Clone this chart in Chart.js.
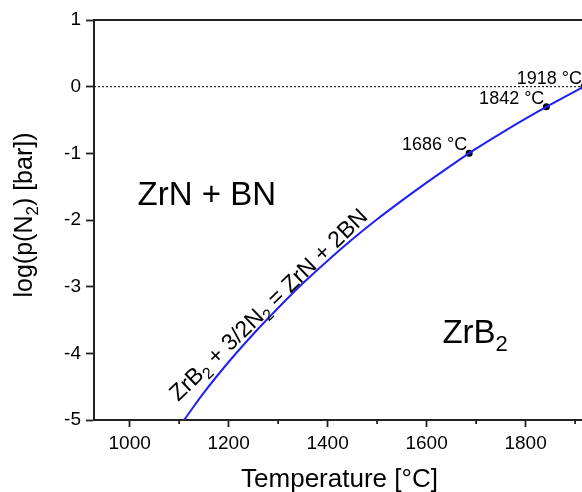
<!DOCTYPE html>
<html lang="en">
<head>
<meta charset="UTF-8">
<title>ZrB2 / ZrN + BN stability</title>
<script src="https://cdn.jsdelivr.net/npm/chart.js"></script>
<style>
  body { margin: 0; background: #fff; overflow: hidden; }
  canvas { display: block; }
</style>
</head>
<body>
<canvas id="myChart" width="586" height="492"></canvas>
<script>
// equilibrium line ZrB2 + 3/2N2 = ZrN + 2BN
const curveTemp = [1110, 1150, 1200, 1250, 1300, 1350, 1400, 1450, 1500, 1550, 1600, 1650, 1700, 1750, 1800, 1850, 1900, 1918];
const curveLogP = [-5.0, -4.59, -4.13, -3.71, -3.32, -2.95, -2.61, -2.29, -1.99, -1.71, -1.44, -1.18, -0.93, -0.70, -0.48, -0.27, -0.07, 0.0];

// marked points
const markTemp = [1686, 1842, 1918];
const markLogP = [-1, -0.3, 0];
const markText = ['1686 \u00b0C', '1842 \u00b0C', '1918 \u00b0C'];

// reference line (p = 1 bar)
const refLogP = 0;

// axes
const xMin = 928, xMax = 1914;
const xTicks = [1000, 1200, 1400, 1600, 1800];
const xMinorTicks = [1100, 1300, 1500, 1700, 1900];
const yTicks = [-5, -4, -3, -2, -1, 0, 1];

const FONT = "'Liberation Sans', Arial, Helvetica, sans-serif";
const INK = '#222';

// draw text made of [string, isSubscript] pieces
function drawRich(ctx, parts, x, y, size, align) {
  const subSize = Math.round(size * 0.68);
  let total = 0;
  parts.forEach(p => {
    ctx.font = (p[1] ? subSize : size) + 'px ' + FONT;
    total += ctx.measureText(p[0]).width;
  });
  let cx = x;
  if (align === 'center') cx = x - total / 2;
  if (align === 'right') cx = x - total;
  ctx.textAlign = 'left';
  ctx.textBaseline = 'alphabetic';
  parts.forEach(p => {
    ctx.font = (p[1] ? subSize : size) + 'px ' + FONT;
    ctx.fillText(p[0], cx, p[1] ? y + size * 0.22 : y);
    cx += ctx.measureText(p[0]).width;
  });
}

const decorations = {
  id: 'decorations',
  beforeDatasetsDraw(chart) {
    const ctx = chart.ctx, area = chart.chartArea, ys = chart.scales.y;
    const py = ys.getPixelForValue(refLogP);
    ctx.save();
    ctx.strokeStyle = '#000';
    ctx.lineWidth = 1;
    ctx.setLineDash([2, 2]);
    ctx.beginPath();
    ctx.moveTo(area.left, py);
    ctx.lineTo(area.right, py);
    ctx.stroke();
    ctx.restore();
  },
  afterDraw(chart) {
    const ctx = chart.ctx, area = chart.chartArea;
    const xs = chart.scales.x, ys = chart.scales.y;
    ctx.save();

    // top frame line
    ctx.strokeStyle = INK;
    ctx.lineWidth = 2;
    ctx.beginPath();
    ctx.moveTo(area.left - 1, area.top);
    ctx.lineTo(area.right, area.top);
    ctx.stroke();

    // minor x ticks
    ctx.lineWidth = 1.8;
    xMinorTicks.forEach(v => {
      const px = xs.getPixelForValue(v);
      ctx.beginPath();
      ctx.moveTo(px, area.bottom);
      ctx.lineTo(px, area.bottom + 4);
      ctx.stroke();
    });

    ctx.fillStyle = '#000';

    // labels of the marked points
    ctx.font = '18px ' + FONT;
    ctx.textAlign = 'right';
    ctx.textBaseline = 'alphabetic';
    markTemp.forEach((t, i) => {
      const px = Math.min(xs.getPixelForValue(t), 584);
      const py = ys.getPixelForValue(markLogP[i]);
      ctx.fillText(markText[i], px - 2, py - 3);
    });

    // phase fields
    drawRich(ctx, [['ZrN + BN', false]], xs.getPixelForValue(1016), ys.getPixelForValue(-1.78), 33, 'left');
    drawRich(ctx, [['ZrB', false], ['2', true]], xs.getPixelForValue(1632), ys.getPixelForValue(-3.85), 33, 'left');

    // reaction along the curve
    ctx.save();
    ctx.translate(xs.getPixelForValue(1291), ys.getPixelForValue(-3.35));
    ctx.rotate(-44 * Math.PI / 180);
    drawRich(ctx, [['ZrB', false], ['2', true], [' + 3/2N', false], ['2', true], [' = ZrN + 2BN', false]], 0, 0, 23, 'center');
    ctx.restore();

    // axis titles
    ctx.font = '26px ' + FONT;
    ctx.textAlign = 'center';
    ctx.fillText('Temperature [\u00b0C]', xs.getPixelForValue(1424), 487);

    ctx.save();
    ctx.translate(32, 215);
    ctx.rotate(-Math.PI / 2);
    drawRich(ctx, [['log(p(N', false], ['2', true], [') [bar])', false]], 0, 0, 25, 'center');
    ctx.restore();

    ctx.restore();
  }
};

new Chart(document.getElementById('myChart'), {
  type: 'line',
  data: {
    datasets: [
      {
        data: curveTemp.map((t, i) => ({ x: t, y: curveLogP[i] })),
        borderColor: '#2020f5',
        borderWidth: 2,
        pointRadius: 0,
        cubicInterpolationMode: 'monotone'
      },
      {
        data: markTemp.map((t, i) => ({ x: t, y: markLogP[i] })),
        showLine: false,
        pointRadius: 3.5,
        pointBackgroundColor: '#000',
        pointBorderColor: '#000',
        pointBorderWidth: 0
      }
    ]
  },
  options: {
    responsive: false,
    animation: false,
    devicePixelRatio: 1,
    layout: { padding: { top: 20, right: 0, left: 0, bottom: 0 } },
    plugins: { legend: { display: false }, tooltip: { enabled: false } },
    scales: {
      x: {
        type: 'linear',
        min: xMin,
        max: xMax,
        afterBuildTicks: s => { s.ticks = xTicks.map(v => ({ value: v })); },
        afterFit: s => { s.height = 72; },
        border: { color: INK, width: 2 },
        grid: { drawOnChartArea: false, color: INK, tickLength: 7, tickWidth: 1.8 },
        ticks: { color: '#000', padding: 5, font: { family: FONT, size: 19 }, maxRotation: 0, callback: v => String(v) }
      },
      y: {
        min: -5,
        max: 1,
        afterBuildTicks: s => { s.ticks = yTicks.map(v => ({ value: v })); },
        afterFit: s => { s.width = 94; },
        border: { color: INK, width: 2 },
        grid: { drawOnChartArea: false, color: INK, tickLength: 8, tickWidth: 1.8 },
        ticks: { color: '#000', padding: 5, font: { family: FONT, size: 19 }, callback: v => String(v) }
      }
    }
  },
  plugins: [decorations]
});
</script>
</body>
</html>
